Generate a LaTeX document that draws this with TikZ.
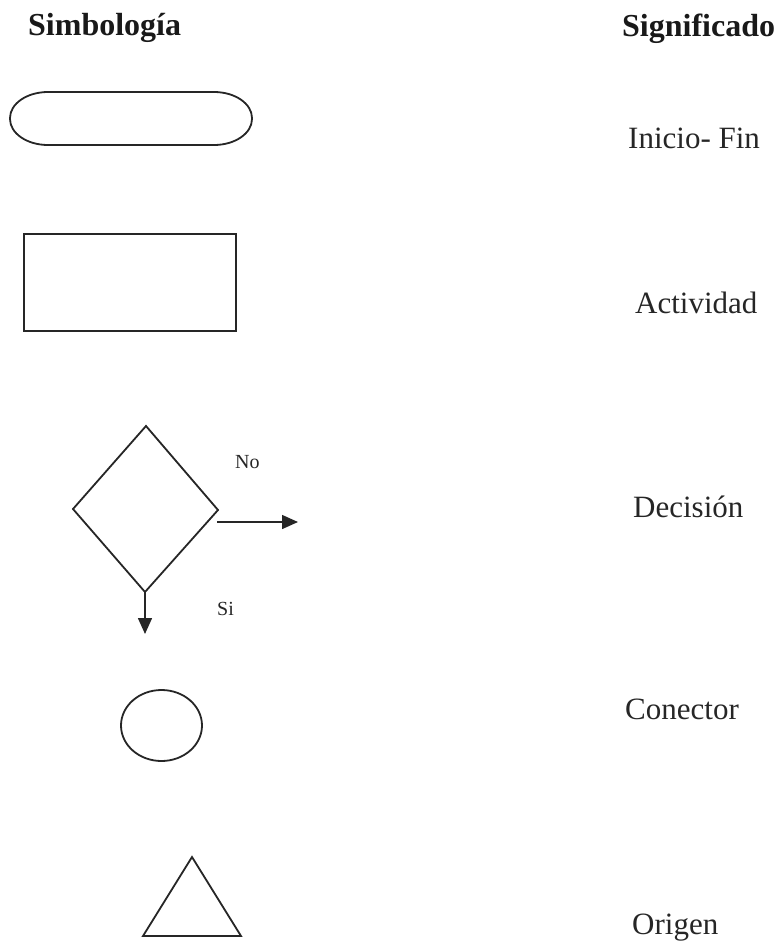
\documentclass[tikz,border=0pt]{standalone}
\usepackage{fontspec}
\setmainfont{Liberation Serif}
\usetikzlibrary{arrows.meta}
\tikzset{
  shape line/.style={line width=1.8pt, draw=black!85},
  arrowline/.style={line width=1.5pt, draw=black!85, -{Triangle[length=16pt,width=14pt]}},
  head/.style={anchor=base west, inner sep=0pt, font=\fontsize{32}{38}\selectfont\bfseries, text=black!90},
  meaning/.style={anchor=base west, inner sep=0pt, font=\fontsize{31}{36}\selectfont, text=black!85},
  small/.style={anchor=base west, inner sep=0pt, font=\fontsize{20}{24}\selectfont, text=black!85}
}
\begin{document}
\begin{tikzpicture}[x=1pt,y=-1pt]
\useasboundingbox (0,0) rectangle (779,943);
% headings
\node[head] (h1) at (28,35) {Simbología};
\node[head] (h2) at (622,36) {Significado};
% terminal (stadium with elliptical ends)
\draw[shape line] (48,92) -- (214,92)
  arc[start angle=90, end angle=0, x radius=38pt, y radius=26pt] -- ++(0,1)
  arc[start angle=0, end angle=-90, x radius=38pt, y radius=26pt] -- (48,145)
  arc[start angle=270, end angle=180, x radius=38pt, y radius=26pt] -- ++(0,-1)
  arc[start angle=180, end angle=90, x radius=38pt, y radius=26pt] -- cycle;
% activity
\draw[shape line] (24,234) rectangle (236,331);
% decision
\coordinate (dT) at (146,426);
\coordinate (dL) at (73,509);
\coordinate (dR) at (218,510);
\coordinate (dB) at (145,592);
\draw[shape line, line join=miter] (dT) -- (dR) -- (dB) -- (dL) -- cycle;
\coordinate (noStart) at (217,522);
\coordinate (noEnd) at (298,522);
\coordinate (siEnd) at (145,634);
\draw[arrowline] (noStart) -- (noEnd);
\draw[arrowline] (dB) -- (siEnd);
\node[small] (no) at (235,468) {No};
\node[small] (si) at (217,615) {Si};
% connector
\draw[shape line] (161.5,725.5) ellipse [x radius=40.5, y radius=35.5];
% origin
\coordinate (tA) at (192,857);
\coordinate (tL) at (143,936);
\coordinate (tR) at (241,936);
\draw[shape line, line join=miter] (tA) -- (tR) -- (tL) -- cycle;
% meanings
\node[meaning] (m1) at (628,148) {Inicio- Fin};
\node[meaning] (m2) at (635,313) {Actividad};
\node[meaning] (m3) at (633,517) {Decisión};
\node[meaning] (m4) at (625,719) {Conector};
\node[meaning] (m5) at (632,934) {Origen};
\end{tikzpicture}
\end{document}
